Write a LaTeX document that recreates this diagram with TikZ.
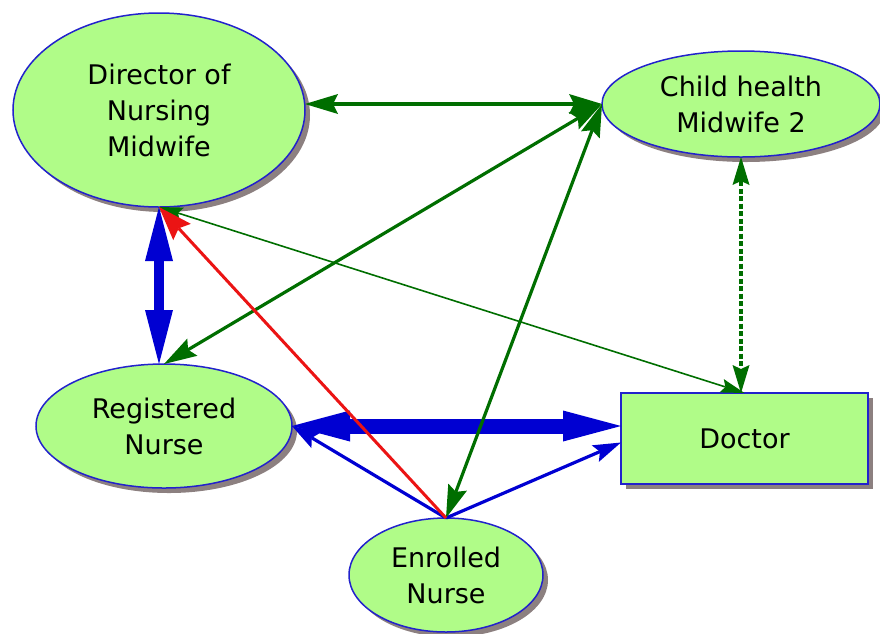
\documentclass[tikz,border=0pt]{standalone}
\usepackage{fontspec}
\setmainfont{DejaVu Sans}
\usetikzlibrary{arrows.meta,shapes.geometric,shadows}

\definecolor{nodefill}{RGB}{176,252,136}
\definecolor{nodeline}{RGB}{34,34,204}
\definecolor{shadowgray}{RGB}{140,128,128}
\definecolor{linkgreen}{RGB}{0,110,0}
\definecolor{linkblue}{RGB}{0,0,210}
\definecolor{linkred}{RGB}{235,20,20}

\begin{document}
\begin{tikzpicture}[x=1pt,y=-1pt,
  rolebox/.style={draw=nodeline, line width=1.5pt, fill=nodefill,
    inner sep=0pt, outer sep=0pt, align=center,
    font=\fontsize{27pt}{36pt}\selectfont,
    general shadow={fill=shadowgray, shadow xshift=5pt, shadow yshift=-5pt}},
  roleoval/.style={rolebox, ellipse},
  rolerect/.style={rolebox, rectangle},
  % green two-way links
  gtwo/.style={draw=linkgreen, line width=3.2pt,
    >={Stealth[length=33pt,width=20pt,inset=5pt,line width=0pt]}, <->},
  gthin/.style={draw=linkgreen, line width=1.6pt,
    >={Stealth[length=24pt,width=14pt,inset=4pt,line width=0pt]}, <->},
  gdash/.style={draw=linkgreen, line width=3.2pt, dash pattern=on 5pt off 2.5pt,
    >={Stealth[length=28pt,width=17pt,inset=4pt,line width=0pt]}, <->},
  % blue links
  bmid/.style={draw=linkblue, line width=10pt,
    >={Triangle[length=54pt,width=28pt,line width=0pt]}, <->},
  bthick/.style={draw=linkblue, line width=15pt,
    >={Triangle[length=58pt,width=31pt,line width=0pt]}, <->},
  bone/.style={draw=linkblue, line width=3.2pt,
    >={Stealth[length=28pt,width=18pt,inset=5pt,line width=0pt]}, ->},
  % red link
  rone/.style={draw=linkred, line width=3pt,
    >={Stealth[length=34pt,width=24pt,inset=5pt,line width=0pt]}, ->}
]
\useasboundingbox (0,0) rectangle (880,633);

% roles
\node[roleoval, minimum width=292pt, minimum height=194pt] (dir) at (159,110)
  {Director of\\Nursing\\Midwife};
\node[roleoval, minimum width=278pt, minimum height=106pt] (child) at (741,104)
  {Child health\\Midwife 2};
\node[roleoval, minimum width=256pt, minimum height=124pt] (rn) at (164,426)
  {Registered\\Nurse};
\node[rolerect, minimum width=247pt, minimum height=91pt] (doc) at (744.5,438.5)
  {Doctor};
\node[roleoval, minimum width=194pt, minimum height=114pt] (en) at (446,575)
  {Enrolled\\Nurse};

% blue links
\draw[bthick] (rn.east) -- (rn.east -| doc.west);
\draw[bmid] (dir.south) -- (dir.south |- rn.north);
\draw[bone] (en.north) -- (rn.east);
\draw[bone] (en.north) -- ([yshift=-4pt]doc.west);

% green links
\draw[gtwo] (child.west) -- (child.west -| dir.east);
\draw[gtwo] (child.west) -- (rn.north);
\draw[gtwo] (child.west) -- (en.north);
\draw[gthin] (dir.south) -- (doc.north);
\draw[gdash] (child.south) -- (child.south |- doc.north);

% red link
\draw[rone] (en.north) -- (dir.south);
\end{tikzpicture}
\end{document}
